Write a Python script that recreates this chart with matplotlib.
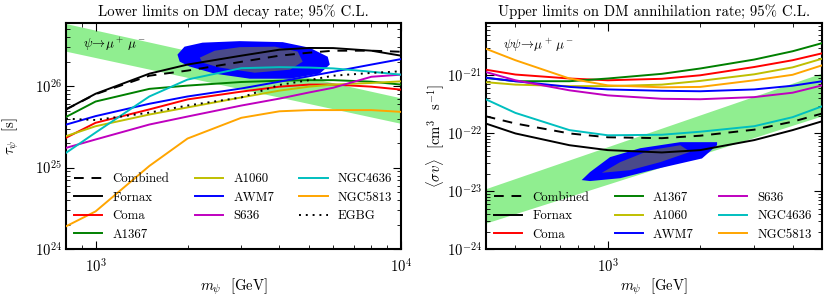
import numpy as np
import matplotlib
matplotlib.use("Agg")
import matplotlib.pyplot as plt
from matplotlib.ticker import LogLocator, NullFormatter

plt.rcParams['font.family'] = 'serif'
plt.rcParams['font.serif'] = ['cmr10']
plt.rcParams['mathtext.fontset'] = 'cm'
plt.rcParams['axes.unicode_minus'] = False
plt.rcParams['axes.formatter.use_mathtext'] = True

# ---------------- Left panel: decay lifetime lower limits ----------------
m_dec = [800, 1000, 1500, 2000, 3000, 4000, 5000, 6000, 8000, 10000]
tau_combined = [5.2e25, 8.0e25, 1.35e26, 1.56e26, 2.0e26, 2.38e26, 2.59e26, 2.74e26, 2.74e26, 2.66e26]
tau_fornax = [5.2e25, 8.1e25, 1.43e26, 1.85e26, 2.38e26, 2.82e26, 2.96e26, 2.95e26, 2.74e26, 2.38e26]
tau_coma = [2.33e25, 3.56e25, 5.2e25, 6.9e25, 8.6e25, 9.9e25, 1.05e26, 1.05e26, 9.9e25, 9.1e25]
tau_a1367 = [4.2e25, 6.5e25, 9.3e25, 1.02e26, 1.13e26, 1.17e26, 1.19e26, 1.19e26, 1.14e26, 1.05e26]
tau_a1060 = [2.44e25, 3.23e25, 4.5e25, 5.5e25, 7.3e25, 8.85e25, 9.9e25, 1.05e26, 1.1e26, 1.15e26]
tau_awm7 = [3.38e25, 4.3e25, 6.1e25, 7.5e25, 9.4e25, 1.14e26, 1.33e26, 1.51e26, 1.85e26, 2.16e26]
tau_s636 = [1.75e25, 2.22e25, 3.39e25, 4.25e25, 5.8e25, 7.06e25, 8.4e25, 9.6e25, 1.31e26, 1.39e26]
tau_ngc4636 = [1.52e25, 2.7e25, 7.5e25, 1.21e26, 1.67e26, 1.72e26, 1.7e26, 1.66e26, 1.51e26, 1.39e26]
tau_ngc5813 = [1.9e24, 2.9e24, 1.05e25, 2.28e25, 4.1e25, 4.93e25, 5.1e25, 5.1e25, 5.1e25, 4.85e25]
tau_egbg = [4.0e25, 3.85e25, 4.75e25, 5.8e25, 7.3e25, 1.04e26, 1.19e26, 1.35e26, 1.46e26, 1.53e26]

band_dec_m = [800, 10000]
band_dec_lo = [2.7e26, 3.5e25]
band_dec_hi = [5.9e26, 7.2e25]

fit_dec_outer_m = [1854, 1955, 2240, 2965, 4100, 5020, 5755, 5845, 5420, 4330, 3200, 2455, 2032, 1885]
fit_dec_outer_t = [2.45e26, 3.07e26, 3.44e26, 3.59e26, 3.49e26, 2.98e26, 2.31e26, 1.85e26, 1.43e26, 1.24e26, 1.24e26, 1.43e26, 1.75e26, 2.01e26]
fit_dec_inner_m = [2193, 2455, 2965, 3865, 4590, 4765, 4330, 3320, 2548, 2240]
fit_dec_inner_t = [2.25e26, 2.74e26, 3.03e26, 3.07e26, 2.67e26, 2.01e26, 1.6e26, 1.47e26, 1.7e26, 1.95e26]

yticks_dec = [1e24, 1e25, 1e26]
xticks_dec = [1e3, 1e4]

# ---------------- Right panel: annihilation cross-section upper limits ----------------
m_ann = [400, 500, 750, 1000, 1500, 2000, 3000, 4000, 5000]
sv_combined = [1.96e-22, 1.47e-22, 9.9e-23, 8.5e-23, 8.2e-23, 9.05e-23, 1.15e-22, 1.58e-22, 2.19e-22]
sv_fornax = [1.47e-22, 9.9e-23, 6.2e-23, 5.1e-23, 4.65e-23, 5.1e-23, 7.6e-23, 1.13e-22, 1.61e-22]
sv_coma = [1.25e-21, 1.03e-21, 8.8e-22, 8.2e-22, 8.7e-22, 1.0e-21, 1.39e-21, 1.82e-21, 2.4e-21]
sv_a1367 = [9.0e-22, 7.9e-22, 7.9e-22, 8.8e-22, 1.06e-21, 1.31e-21, 1.87e-21, 2.6e-21, 3.6e-21]
sv_a1060 = [7.6e-22, 6.9e-22, 6.5e-22, 6.5e-22, 6.9e-22, 8.0e-22, 1.04e-21, 1.37e-21, 1.94e-21]
sv_awm7 = [9.1e-22, 7.9e-22, 6.3e-22, 5.7e-22, 5.4e-22, 5.3e-22, 5.7e-22, 6.6e-22, 7.9e-22]
sv_s636 = [1.14e-21, 8.2e-22, 5.5e-22, 4.5e-22, 3.93e-22, 3.86e-22, 4.2e-22, 5.0e-22, 6.7e-22]
sv_ngc4636 = [3.86e-22, 2.24e-22, 1.13e-22, 9.2e-23, 9.4e-23, 1.06e-22, 1.32e-22, 1.89e-22, 2.92e-22]
sv_ngc5813 = [2.88e-21, 1.82e-21, 8.8e-22, 6.7e-22, 6.2e-22, 6.3e-22, 8.2e-22, 1.02e-21, 1.49e-21]

band_ann_m = [400, 5000]
band_ann_lo = [2.8e-24, 2.0e-22]
band_ann_hi = [1.1e-23, 1.1e-21]

fit_ann_outer_m = [822, 875, 1017, 1275, 1722, 2270, 2270, 2027, 1482, 1097, 875]
fit_ann_outer_s = [1.55e-23, 2.13e-23, 3.86e-23, 5.5e-23, 7.0e-23, 7.0e-23, 6.2e-23, 3.66e-23, 2.5e-23, 1.67e-23, 1.49e-23]
fit_ann_inner_m = [956, 1097, 1375, 1722, 1857, 1482, 1183]
fit_ann_inner_s = [2.07e-23, 3.16e-23, 5.1e-23, 6.2e-23, 4.77e-23, 3.16e-23, 2.3e-23]

yticks_ann = [1e-24, 1e-23, 1e-22, 1e-21]
xticks_ann = [1e3]

labels_dec = ['Combined', 'Fornax', 'Coma', 'A1367', 'A1060', 'AWM7', 'S636', 'NGC4636', 'NGC5813', 'EGBG']
labels_ann = ['Combined', 'Fornax', 'Coma', 'A1367', 'A1060', 'AWM7', 'S636', 'NGC4636', 'NGC5813']
colors = {'Combined': 'k', 'Fornax': 'k', 'Coma': 'r', 'A1367': 'g', 'A1060': 'y',
          'AWM7': 'b', 'S636': 'm', 'NGC4636': 'c', 'NGC5813': 'orange', 'EGBG': 'k'}
styles = {'Combined': (0, (5, 4)), 'EGBG': (0, (1, 2.5))}

BAND = '#90ee90'
OUTER = '#0000ff'
INNER = '#4a4a8a'
LW = 1.4
FS_LEG = 9.2
FS = 10.6
FS_ANN = 9.4

fig = plt.figure(figsize=(8.3, 2.97), dpi=100)
ax1 = fig.add_axes([66 / 830, 48 / 297, 335 / 830, 226 / 297])
ax2 = fig.add_axes([485.7 / 830, 48 / 297, 336.6 / 830, 226 / 297])


def style_axis(ax, xt, yt):
    ax.set_xscale('log')
    ax.set_yscale('log')
    ax.set_xticks(xt)
    ax.set_yticks(yt)
    ax.tick_params(which='both', direction='in', top=True, right=True, labelsize=FS)
    ax.tick_params(which='major', length=6, width=0.8)
    ax.tick_params(which='minor', length=3, width=0.6)
    ax.tick_params(axis='y', which='both', pad=2.5)
    ax.tick_params(axis='x', which='both', pad=6)
    ax.yaxis.set_minor_locator(LogLocator(base=10, subs=np.arange(2, 10), numticks=20))
    ax.xaxis.set_minor_locator(LogLocator(base=10, subs=np.arange(2, 10), numticks=20))
    ax.xaxis.set_minor_formatter(NullFormatter())
    ax.yaxis.set_minor_formatter(NullFormatter())
    for s in ax.spines.values():
        s.set_linewidth(1.5)


leg_kw = dict(ncol=3, loc='lower left', frameon=False, fontsize=FS_LEG, handlelength=2.2,
              handletextpad=0.8, columnspacing=2.0, labelspacing=0.5, borderaxespad=0.23)

# Left
ax1.fill_between(band_dec_m, band_dec_lo, band_dec_hi, color=BAND, lw=0, zorder=1)
ax1.fill(fit_dec_outer_m, fit_dec_outer_t, color=OUTER, lw=0, zorder=2)
ax1.fill(fit_dec_inner_m, fit_dec_inner_t, color=INNER, lw=0, zorder=3)
dec_data = {'Combined': tau_combined, 'Fornax': tau_fornax, 'Coma': tau_coma, 'A1367': tau_a1367,
            'A1060': tau_a1060, 'AWM7': tau_awm7, 'S636': tau_s636, 'NGC4636': tau_ngc4636,
            'NGC5813': tau_ngc5813, 'EGBG': tau_egbg}
for name in labels_dec:
    ax1.plot(m_dec, dec_data[name], color=colors[name], ls=styles.get(name, '-'), lw=LW, label=name, zorder=4)
style_axis(ax1, xticks_dec, yticks_dec)
ax1.set_xlim(800, 10000)
ax1.set_ylim(1e24, 6e26)
ax1.set_title('Lower limits on DM decay rate; 95% C.L.', fontsize=FS, pad=5)
ax1.set_xlabel(r'$m_\psi$  [GeV]', fontsize=FS)
ax1.set_ylabel(r'$\tau_\psi$  [s]', fontsize=FS)
ax1.xaxis.set_label_coords(0.5, -0.124)
ax1.yaxis.set_label_coords(-0.133, 0.5)
ax1.text(0.05, 0.905, r'$\psi \!\rightarrow\! \mu^+\,\mu^-$', transform=ax1.transAxes, fontsize=FS_ANN, va='center')
ax1.legend(**leg_kw)

# Right
ax2.fill_between(band_ann_m, band_ann_lo, band_ann_hi, color=BAND, lw=0, zorder=1)
ax2.fill(fit_ann_outer_m, fit_ann_outer_s, color=OUTER, lw=0, zorder=2)
ax2.fill(fit_ann_inner_m, fit_ann_inner_s, color=INNER, lw=0, zorder=3)
ann_data = {'Combined': sv_combined, 'Fornax': sv_fornax, 'Coma': sv_coma, 'A1367': sv_a1367,
            'A1060': sv_a1060, 'AWM7': sv_awm7, 'S636': sv_s636, 'NGC4636': sv_ngc4636,
            'NGC5813': sv_ngc5813}
for name in labels_ann:
    ax2.plot(m_ann, ann_data[name], color=colors[name], ls=styles.get(name, '-'), lw=LW, label=name, zorder=4)
style_axis(ax2, xticks_ann, yticks_ann)
ax2.set_xlim(400, 5000)
ax2.set_ylim(1e-24, 8e-21)
ax2.set_title('Upper limits on DM annihilation rate; 95% C.L.', fontsize=FS, pad=5)
ax2.set_xlabel(r'$m_\psi$  [GeV]', fontsize=FS)
ax2.set_ylabel(r'$\langle\sigma v\rangle$  [cm$^3$  s$^{-1}$]', fontsize=FS)
ax2.xaxis.set_label_coords(0.5, -0.124)
ax2.yaxis.set_label_coords(-0.115, 0.5)
ax2.text(0.05, 0.9, r'$\psi\psi \!\rightarrow\! \mu^+\,\mu^-$', transform=ax2.transAxes, fontsize=FS_ANN, va='center')
ax2.legend(**leg_kw)

fig.savefig('out.png', dpi=100)
